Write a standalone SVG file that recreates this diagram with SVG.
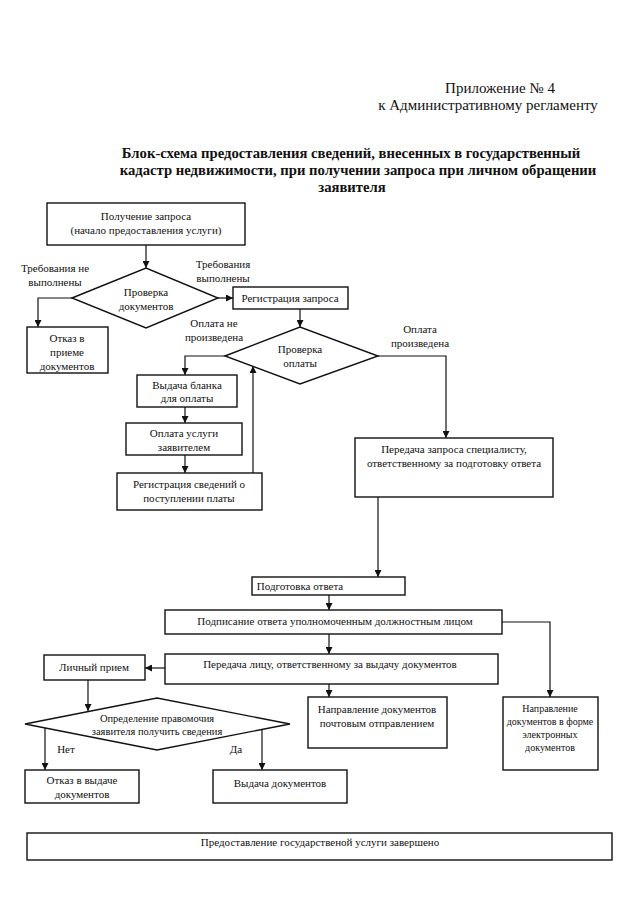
<svg xmlns="http://www.w3.org/2000/svg" width="640" height="905" viewBox="0 0 640 905">
<style>
  .bx { fill: #fff; stroke: #111; stroke-width: 1.4; }
  .t { font-family: 'Liberation Serif', 'DejaVu Serif', serif; font-size: 11px; fill: #111; text-anchor: middle; }
  .sm { font-size: 10.5px; }
  .xs { font-size: 10px; }
  .hdr { font-family: 'Liberation Serif', 'DejaVu Serif', serif; font-size: 15px; fill: #111; text-anchor: middle; }
  .ttl { font-family: 'Liberation Serif', 'DejaVu Serif', serif; font-size: 14.7px; font-weight: bold; fill: #111; text-anchor: middle; }
  .ln { fill: none; stroke: #111; stroke-width: 1.2; }
  .ar { marker-end: url(#ah); }
</style>
<defs>
  <marker id="ah" markerUnits="userSpaceOnUse" markerWidth="8" markerHeight="7" refX="7" refY="3.5" orient="auto">
    <path d="M0,0 L7,3.5 L0,7 z" fill="#111"/>
  </marker>
</defs>
<rect width="640" height="905" fill="#fff"/>

<g id="header">
  <text class="hdr" x="500" y="93">Приложение № 4</text>
  <text class="hdr" x="488" y="110">к Административному регламенту</text>
  <text class="ttl" x="351" y="158">Блок-схема предоставления сведений, внесенных в государственный</text>
  <text class="ttl" x="358" y="175">кадастр недвижимости, при получении запроса при личном обращении</text>
  <text class="ttl" x="352" y="192">заявителя</text>
</g>

<g id="connectors">
  <path class="ln ar" d="M146,245 V268"/>
  <path class="ln ar" d="M72,298 H38 V327"/>
  <path class="ln ar" d="M218,298 H233"/>
  <path class="ln ar" d="M300,309 V327"/>
  <path class="ln ar" d="M225,356 H185 V375"/>
  <path class="ln ar" d="M185,407 V423"/>
  <path class="ln ar" d="M185,455 V473"/>
  <path class="ln ar" d="M253,473 V366"/>
  <path class="ln ar" d="M378,356 H446 V438"/>
  <path class="ln ar" d="M378,497 V577"/>
  <path class="ln ar" d="M329,595 V610"/>
  <path class="ln ar" d="M329,634 V654"/>
  <path class="ln ar" d="M165,668 H145"/>
  <path class="ln ar" d="M502,622 H550 V697"/>
  <path class="ln ar" d="M329,684 V697"/>
  <path class="ln ar" d="M88,680 V711"/>
  <path class="ln ar" d="M45,728 V770"/>
  <path class="ln ar" d="M262,728 V770"/>
</g>

<g id="labels">
  <text class="t" x="55" y="272">Требования не</text>
  <text class="t" x="55" y="286">выполнены</text>
  <text class="t" x="223" y="268">Требования</text>
  <text class="t" x="223" y="282">выполнены</text>
  <text class="t" x="214" y="327">Оплата  не</text>
  <text class="t" x="214" y="341">произведена</text>
  <text class="t" x="420" y="333">Оплата</text>
  <text class="t" x="420" y="347">произведена</text>
  <text class="t" x="66" y="753">Нет</text>
  <text class="t" x="236" y="753">Да</text>
</g>

<g id="n1">
  <rect class="bx" x="47" y="203" width="198" height="42"/>
  <text class="t" x="146" y="220">Получение запроса</text>
  <text class="t" x="146" y="234">(начало предоставления услуги)</text>
</g>
<g id="n2">
  <polygon class="bx" points="72,298 146,268 218,298 146,328"/>
  <text class="t" x="146" y="296">Проверка</text>
  <text class="t" x="146" y="310">документов</text>
</g>
<g id="n3">
  <rect class="bx" x="27" y="327" width="81" height="46"/>
  <text class="t" x="67" y="342">Отказ в</text>
  <text class="t" x="67" y="356">приеме</text>
  <text class="t" x="67" y="370">документов</text>
</g>
<g id="n4">
  <rect class="bx" x="233" y="287" width="115" height="22"/>
  <text class="t" x="290" y="302">Регистрация запроса</text>
</g>
<g id="n5">
  <polygon class="bx" points="225,356 300,327 378,356 300,384"/>
  <text class="t" x="300" y="353">Проверка</text>
  <text class="t" x="300" y="367">оплаты</text>
</g>
<g id="n6">
  <rect class="bx" x="137" y="375" width="100" height="32"/>
  <text class="t" x="187" y="389">Выдача бланка</text>
  <text class="t" x="187" y="402">для оплаты</text>
</g>
<g id="n7">
  <rect class="bx" x="126" y="423" width="116" height="32"/>
  <text class="t" x="184" y="437">Оплата услуги</text>
  <text class="t" x="184" y="451">заявителем</text>
</g>
<g id="n8">
  <rect class="bx" x="117" y="473" width="145" height="37"/>
  <text class="t" x="189" y="488">Регистрация сведений о</text>
  <text class="t" x="189" y="502">поступлении платы</text>
</g>
<g id="n9">
  <rect class="bx" x="355" y="438" width="198" height="59"/>
  <text class="t" x="454" y="453">Передача запроса специалисту,</text>
  <text class="t" x="454" y="467">ответственному за подготовку ответа</text>
</g>
<g id="n10">
  <rect class="bx" x="252" y="577" width="153" height="18"/>
  <text class="t" x="300" y="590">Подготовка ответа</text>
</g>
<g id="n11">
  <rect class="bx" x="165" y="610" width="337" height="24"/>
  <text class="t" x="335" y="625">Подписание ответа уполномоченным должностным лицом</text>
</g>
<g id="n12">
  <rect class="bx" x="165" y="654" width="333" height="30"/>
  <text class="t" x="330" y="668">Передача лицу, ответственному за выдачу документов</text>
</g>
<g id="n13">
  <rect class="bx" x="44" y="655" width="101" height="25"/>
  <text class="t" x="94" y="671">Личный прием</text>
</g>
<g id="n14">
  <polygon class="bx" points="25,724 157,698 290,724 157,750"/>
  <text class="t sm" x="157" y="722">Определение правомочия</text>
  <text class="t sm" x="157" y="735">заявителя получить сведения</text>
</g>
<g id="n15">
  <rect class="bx" x="308" y="697" width="139" height="51"/>
  <text class="t" x="377" y="713">Направление документов</text>
  <text class="t" x="377" y="727">почтовым отправлением</text>
</g>
<g id="n16">
  <rect class="bx" x="503" y="697" width="95" height="73"/>
  <text class="t xs" x="550" y="712">Направление</text>
  <text class="t xs" x="550" y="725">документов в форме</text>
  <text class="t xs" x="550" y="738">электронных</text>
  <text class="t xs" x="550" y="751">документов</text>
</g>
<g id="n17">
  <rect class="bx" x="25" y="770" width="114" height="33"/>
  <text class="t" x="82" y="784">Отказ в выдаче</text>
  <text class="t" x="82" y="798">документов</text>
</g>
<g id="n18">
  <rect class="bx" x="213" y="770" width="134" height="33"/>
  <text class="t" x="280" y="787">Выдача документов</text>
</g>
<g id="n19">
  <rect class="bx" x="27" y="833" width="585" height="27"/>
  <text class="t" x="320" y="846">Предоставление государственой услуги завершено</text>
</g>
</svg>
